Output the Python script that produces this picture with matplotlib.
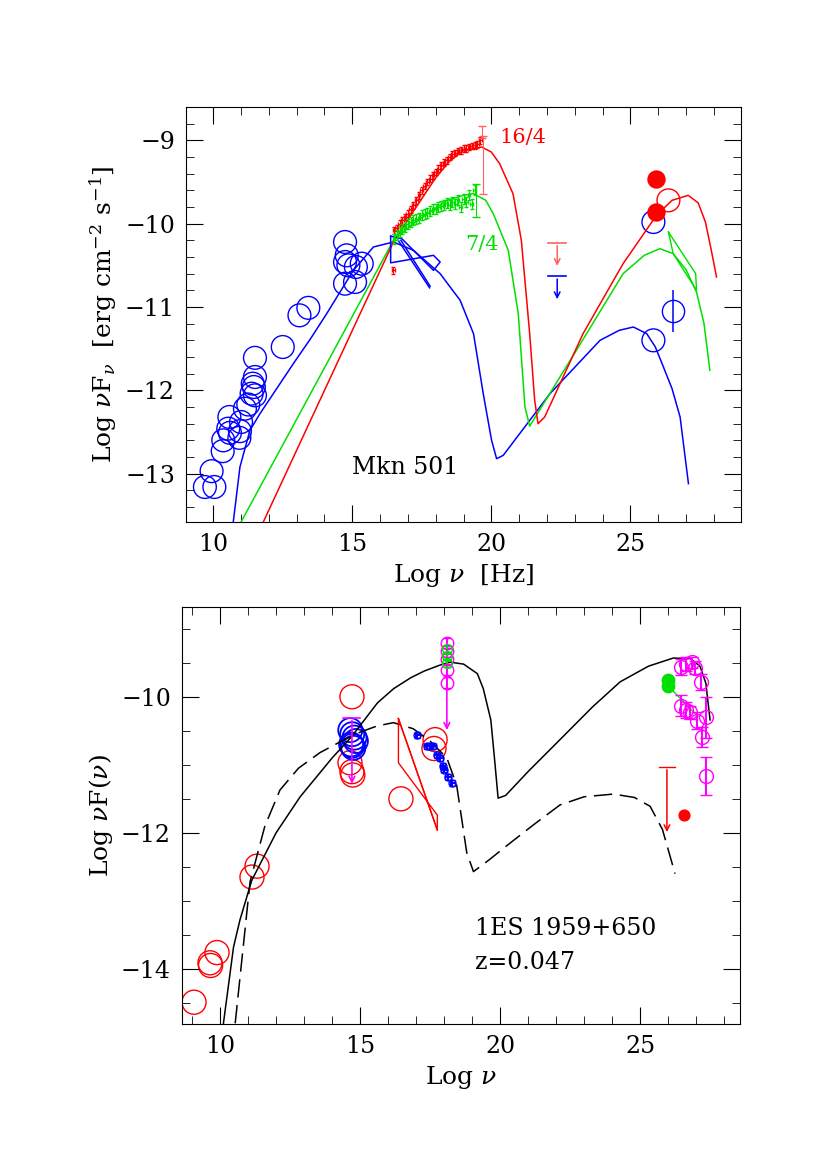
import matplotlib
matplotlib.use("Agg")
import matplotlib.pyplot as plt
from matplotlib.ticker import MultipleLocator

plt.rcParams["font.family"] = "DejaVu Serif"
plt.rcParams["mathtext.fontset"] = "dejavuserif"

# ---------------- top panel data (Mkn 501) ----------------
blue_circ_x = [9.70, 9.94, 10.04, 10.34, 10.36, 10.58, 10.54, 10.6, 10.96, 11.0, 10.94, 11.14, 11.26, 11.38, 11.5, 11.42, 11.5, 11.46, 11.5,
               12.5, 13.1, 13.42, 14.74, 14.8, 14.74, 14.86, 15.34, 15.13, 14.74, 15.1, 25.83, 25.83]
blue_circ_y = [-13.16, -12.97, -13.16, -12.73, -12.6, -12.32, -12.46, -12.51, -12.49, -12.38, -12.57, -12.22, -12.17, -12.04, -12.06, -11.92, -11.84, -11.96, -11.61,
               -11.48, -11.1, -11.01, -10.22, -10.38, -10.46, -10.5, -10.48, -10.52, -10.72, -10.7, -9.98, -11.40]
red_fill_x = [25.91, 25.91]
red_fill_y = [-9.47, -9.86]
red_open_x = [26.37]
red_open_y = [-9.72]
xr_red_x = [16.5, 16.6, 16.7, 16.8, 16.9, 17.0, 17.1, 17.2, 17.3, 17.4, 17.5, 17.6, 17.7, 17.8, 17.9, 18.0, 18.1, 18.2, 18.3, 18.4,
            18.5, 18.6, 18.7, 18.8, 18.9, 19.0, 19.1, 19.2, 19.3, 19.4, 19.5, 19.6, 16.48]
xr_red_y = [-10.08, -10.05, -10.0, -9.96, -9.92, -9.88, -9.83, -9.78, -9.72, -9.66, -9.6, -9.55, -9.5, -9.46, -9.42, -9.38, -9.34, -9.3, -9.27, -9.24,
            -9.2, -9.17, -9.15, -9.13, -9.12, -9.1, -9.1, -9.08, -9.07, -9.06, -9.05, -9.0, -10.56]
xr_grn_x = [16.5, 16.6, 16.7, 16.8, 16.9, 17.0, 17.1, 17.2, 17.3, 17.4, 17.5, 17.6, 17.7, 17.8, 17.9, 18.0, 18.1, 18.2, 18.3, 18.4,
            18.5, 18.6, 18.7, 18.8, 18.9, 19.0, 19.1, 19.2, 19.3, 19.4]
xr_grn_y = [-10.18, -10.14, -10.1, -10.07, -10.04, -10.0, -9.98, -9.96, -9.94, -9.93, -9.9, -9.88, -9.87, -9.85, -9.83, -9.82, -9.8, -9.79, -9.78, -9.75,
            -9.78, -9.74, -9.76, -9.72, -9.8, -9.7, -9.74, -9.66, -9.76, -9.6]
bow_x = [16.38, 16.38, 17.92, 18.16, 17.92, 16.78, 16.38]
bow_y = [-10.15, -10.47, -10.38, -10.46, -10.56, -10.18, -10.15]
mod_blue_x = [10.72, 10.96, 11.32, 11.68, 12.2, 12.88, 13.5, 14.08, 15.04, 15.76, 16.48, 17.2, 18.16, 18.88, 19.36, 19.71, 20.01, 20.19, 20.43,
              22.11, 23.91, 24.6, 25.11, 25.59, 25.9, 26.19, 26.5, 26.79, 27.09]
mod_blue_y = [-13.58, -12.92, -12.48, -12.28, -12.02, -11.68, -11.38, -11.08, -10.56, -10.28, -10.22, -10.32, -10.6, -10.92, -11.32, -12.04, -12.6, -12.82, -12.78,
              -12.04, -11.4, -11.28, -11.24, -11.32, -11.48, -11.72, -11.98, -12.32, -13.12]
mod_grn_x = [11.0, 16.48, 17.2, 18.4, 19.0, 19.36, 19.8, 20.07, 20.61, 20.97, 21.21, 21.38, 23.06, 24.74, 25.5, 26.06, 26.54, 27.0, 27.38, 27.65, 27.86]
mod_grn_y = [-13.58, -10.2, -10.0, -9.72, -9.66, -9.64, -9.72, -9.88, -10.32, -11.08, -12.2, -12.43, -11.52, -10.6, -10.38, -10.3, -10.36, -10.55, -10.82, -11.2, -11.76]
mod_red_x = [11.8, 16.48, 17.2, 18.0, 18.5, 19.0, 19.65, 20.0, 20.3, 20.78, 21.08, 21.38, 21.56, 21.68, 21.92, 23.3, 24.74, 25.94, 26.5, 27.08, 27.44, 27.7, 27.9, 28.1]
mod_red_y = [-13.58, -10.22, -9.85, -9.45, -9.25, -9.12, -9.08, -9.14, -9.28, -9.64, -10.2, -11.32, -12.12, -12.4, -12.32, -11.32, -10.48, -9.9, -9.72, -9.66, -9.75, -9.98, -10.3, -10.64]

# ---------------- bottom panel data (1ES 1959+650) ----------------
sol_x = [10.12, 10.48, 10.71, 11.13, 12.0, 12.86, 13.5, 14.0, 14.67, 15.62, 16.2, 16.81, 17.3, 17.88, 18.21, 18.7, 19.19, 19.4, 19.67, 19.8, 19.93, 20.2, 21.0,
         22.14, 23.3, 24.29, 25.3, 26.19, 26.8, 27.14, 27.35, 27.5]
sol_y = [-14.8, -13.68, -13.28, -12.7, -12.0, -11.47, -11.15, -10.9, -10.6, -10.09, -9.88, -9.72, -9.62, -9.53, -9.49, -9.52, -9.66, -9.88, -10.34, -10.9, -11.49, -11.45, -11.1,
         -10.63, -10.15, -9.78, -9.55, -9.43, -9.44, -9.55, -9.8, -10.34]
dash_x = [10.54, 11.07, 11.6, 12.14, 12.8, 13.57, 14.3, 15.0, 15.6, 16.19, 16.9, 17.5, 18.1, 18.45, 18.81, 19.05, 19.6, 20.36, 21.2, 22.14, 23.0, 24.05, 24.8, 25.36, 25.8, 26.25]
dash_y = [-14.8, -12.72, -11.9, -11.37, -11.05, -10.82, -10.66, -10.52, -10.43, -10.38, -10.47, -10.65, -10.9, -11.3, -12.29, -12.57, -12.4, -12.15, -11.88, -11.59, -11.47, -11.43, -11.48, -11.61, -11.95, -12.6]
rc_x = [9.07, 9.64, 9.66, 9.89, 11.14, 11.32, 14.71, 14.64, 14.71, 14.74, 16.46, 17.68, 17.64]
rc_y = [-14.49, -13.91, -13.95, -13.76, -12.65, -12.49, -10.0, -10.97, -11.1, -11.15, -11.5, -10.63, -10.76]
bc_x = [14.65, 14.72, 14.8, 14.68, 14.76, 14.85, 14.72]
bc_y = [-10.49, -10.55, -10.6, -10.7, -10.75, -10.65, -10.72]
bx_x = [17.05, 17.38, 17.5, 17.62, 17.74, 17.85, 17.95, 18.0, 18.15, 18.3]
bx_y = [-10.56, -10.73, -10.73, -10.73, -10.86, -10.9, -11.02, -11.07, -11.18, -11.27]
mg_x_y = [-9.21, -9.33, -9.45, -9.6, -9.79]
gr_x_y = [-9.3, -9.4, -9.5]
gr_tev_x = [26.0, 26.0]
gr_tev_y = [-9.75, -9.84]
mg_tev_x = [26.48, 26.64, 26.84, 26.96, 27.16, 26.48, 26.64, 26.79, 27.02, 27.2, 27.36, 27.36]
mg_tev_y = [-9.56, -9.52, -9.49, -9.57, -9.78, -10.13, -10.19, -10.23, -10.35, -10.59, -10.3, -11.17]
mg_tev_e = [0.12, 0.1, 0.08, 0.1, 0.12, 0.15, 0.12, 0.1, 0.12, 0.15, 0.3, 0.28]
rbow_x = [16.37, 17.76, 17.76, 16.37, 16.37]
rbow_y = [-10.32, -11.96, -11.74, -10.97, -10.32]

fig = plt.figure(figsize=(8.17, 11.55), dpi=100)
W, H = 817, 1155
ax1 = fig.add_axes([186/W, 1-522/H, 555/W, 415/H])
ax2 = fig.add_axes([182/W, 1-1024/H, 558/W, 417/H])

def style(ax, ymaj, ymin):
    ax.tick_params(direction="in", which="both", top=True, right=True, labelsize=17, pad=8)
    ax.tick_params(which="major", length=12)
    ax.tick_params(which="minor", length=6)
    ax.xaxis.set_major_locator(MultipleLocator(5))
    ax.xaxis.set_minor_locator(MultipleLocator(1))
    ax.yaxis.set_major_locator(MultipleLocator(ymaj))
    ax.yaxis.set_minor_locator(MultipleLocator(ymin))
    ax.yaxis.set_major_formatter(matplotlib.ticker.FuncFormatter(lambda v, p: f"{v:.0f}".replace("-", "\u2212")))

style(ax1, 1, 0.2)
ax1.set_xlim(9.02, 28.98); ax1.set_ylim(-13.58, -8.6)
ax1.plot(mod_blue_x, mod_blue_y, color="blue", lw=1.1)
ax1.plot(mod_grn_x, mod_grn_y, color="#00e000", lw=1.1)
ax1.plot(mod_red_x, mod_red_y, color="red", lw=1.1)
ax1.plot(bow_x, bow_y, color="blue", lw=1.1)
ax1.plot([16.65, 17.78], [-10.2, -10.77], color="blue", lw=1.1)
ax1.plot([16.75, 17.8], [-10.2, -10.75], color="blue", lw=1.1)
ax1.plot([26.37, 26.54, 27.38, 27.35, 26.37], [-10.1, -10.36, -10.8, -10.6, -10.1], color="#00e000", lw=1.0)
ax1.errorbar(xr_red_x, xr_red_y, yerr=0.04, xerr=0.05, fmt="none", ecolor="red", lw=0.8, capsize=1.5)
ax1.errorbar(xr_grn_x, xr_grn_y, yerr=0.06, xerr=0.05, fmt="none", ecolor="#00e000", lw=0.8, capsize=1.5)
ax1.errorbar([19.7, 19.65], [-9.3, -8.9], yerr=[0.35, 0.07], fmt="none", ecolor="#ff6060", lw=0.8, capsize=3)
ax1.errorbar([19.45], [-9.72], yerr=0.2, fmt="none", ecolor="#00e000", lw=0.8, capsize=3)
ax1.scatter(blue_circ_x, blue_circ_y, s=270, facecolors="none", edgecolors="blue", lw=1)
ax1.errorbar([26.55], [-11.05], yerr=0.25, fmt="o", ms=16, mfc="none", mec="blue", ecolor="blue", lw=1.1)
ax1.scatter(red_fill_x, red_fill_y, s=150, color="red")
ax1.scatter(red_open_x, red_open_y, s=270, facecolors="none", edgecolors="red")
for y0, y1, c in [(-10.23, -10.54, "#ff6060"), (-10.63, -10.94, "blue")]:
    ax1.plot([22.05, 22.69], [y0, y0], color=c, lw=1.2)
    ax1.annotate("", xy=(22.37, y1), xytext=(22.37, y0), arrowprops=dict(arrowstyle="->", color=c, lw=1.1))
ax1.text(20.3, -9.03, "16/4", color="red", fontsize=15)
ax1.text(19.05, -10.32, "7/4", color="#00e000", fontsize=15)
ax1.text(15.0, -13.0, "Mkn 501", fontsize=17)
ax1.set_xlabel(r"Log $\nu$  [Hz]", fontsize=18)
ax1.set_ylabel(r"Log $\nu$F$_\nu$  [erg cm$^{-2}$ s$^{-1}$]", fontsize=18)

style(ax2, 2, 0.5)
ax2.set_xlim(8.64, 28.57); ax2.set_ylim(-14.81, -8.68)
ax2.plot(sol_x, sol_y, color="black", lw=1.1)
ax2.plot(dash_x, dash_y, color="black", lw=1.1, dashes=(12, 5))
ax2.plot(rbow_x, rbow_y, color="red", lw=1)
ax2.plot([16.37, 17.76], [-10.32, -11.96], color="red", lw=1)
ax2.scatter(rc_x, rc_y, s=300, facecolors="none", edgecolors="red")
ax2.scatter(bc_x, bc_y, s=300, facecolors="none", edgecolors="blue", lw=1.3)
ax2.errorbar(bx_x, bx_y, yerr=0.04, xerr=0.1, fmt="o", ms=5, color="blue", mfc="none", capsize=2)
ax2.errorbar([18.1]*5, mg_x_y, yerr=0.08, fmt="o", ms=9, color="magenta", mfc="none", capsize=3)
ax2.errorbar([18.1]*3, gr_x_y, yerr=0.06, fmt="o", ms=7, color="#00e000", mfc="none", capsize=3)
ax2.annotate("", xy=(18.1, -10.53), xytext=(18.1, -9.8), arrowprops=dict(arrowstyle="->", color="magenta", lw=1.2))
ax2.plot([14.4, 15.0], [-10.31, -10.31], color="magenta", lw=1.2)
ax2.annotate("", xy=(14.71, -11.32), xytext=(14.71, -10.31), arrowprops=dict(arrowstyle="->", color="magenta", lw=1.2))
ax2.scatter(gr_tev_x, gr_tev_y, s=80, color="#00e000")
ax2.plot([26.0, 27.07], [-9.84, -10.29], color="#00e000", lw=1)
ax2.errorbar(mg_tev_x, mg_tev_y, yerr=mg_tev_e, fmt="o", ms=10, color="magenta", mfc="none", capsize=4)
ax2.plot([25.66, 26.26], [-11.03, -11.03], color="red", lw=1)
ax2.annotate("", xy=(25.96, -12.03), xytext=(25.96, -11.03), arrowprops=dict(arrowstyle="->", color="red", lw=1.1))
ax2.scatter([26.56], [-11.74], s=60, color="red")
ax2.text(19.1, -13.5, "1ES 1959+650", fontsize=17)
ax2.text(19.1, -14.0, "z=0.047", fontsize=17)
ax2.set_xlabel(r"Log $\nu$", fontsize=18)
ax2.set_ylabel(r"Log $\nu$F($\nu$)", fontsize=18)

fig.savefig("out.png", dpi=100)
